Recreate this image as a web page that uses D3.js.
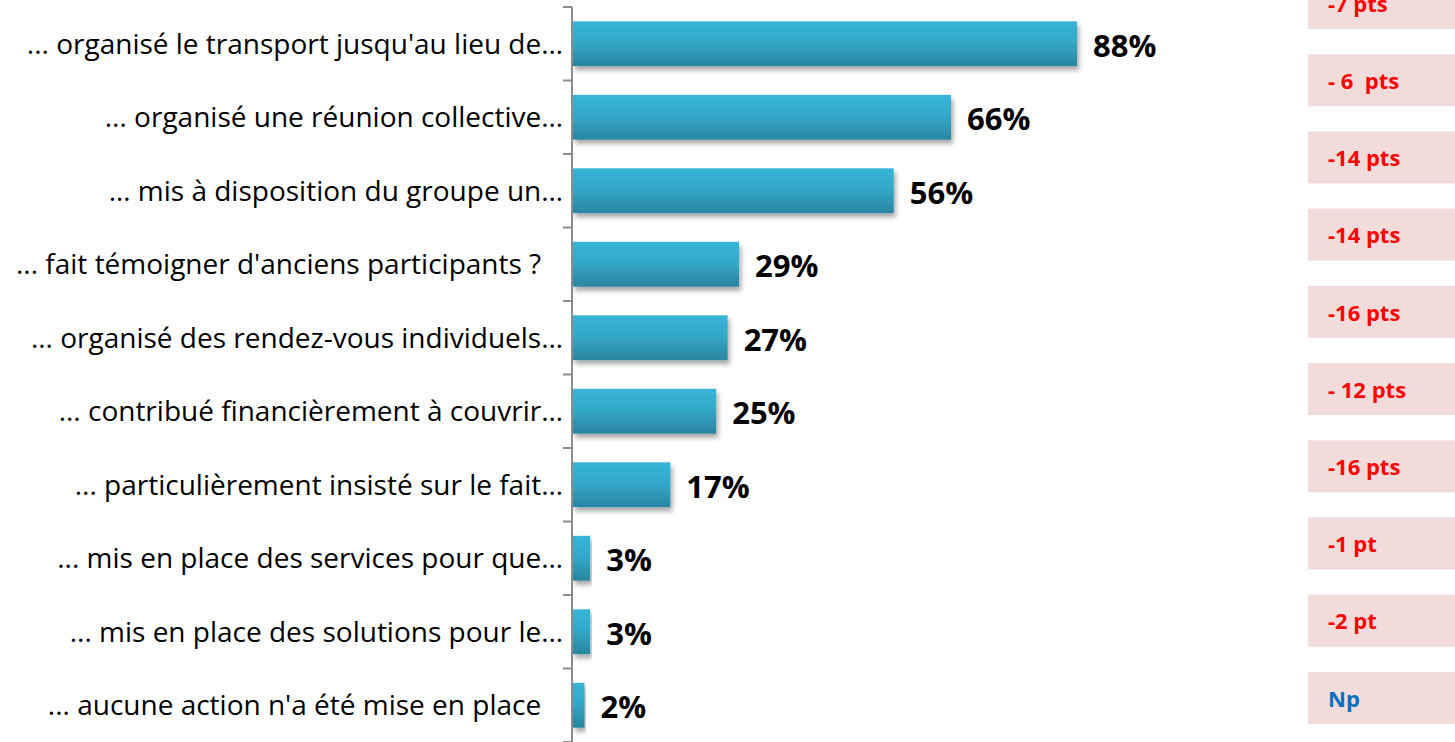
<!DOCTYPE html>
<html>
<head>
<meta charset="utf-8">
<script src="https://cdn.jsdelivr.net/npm/d3@7"></script>
<style>
  html, body { margin: 0; padding: 0; background: #fff; overflow: hidden; }
  svg { display: block; }
</style>
</head>
<body>
<div id="chart"></div>
<script>
const categories = [
  "... organisé le transport jusqu'au lieu de…",
  "... organisé une réunion collective…",
  "… mis à disposition du groupe un…",
  "... fait témoigner d'anciens participants ?   ",
  "... organisé des rendez-vous individuels…",
  "... contribué financièrement à couvrir…",
  "... particulièrement insisté sur le fait…",
  "... mis en place des services pour que…",
  "... mis en place des solutions pour le…",
  "... aucune action n'a été mise en place   "
];
const values = [88, 66, 56, 29, 27, 25, 17, 3, 3, 2];
const valueLabels = ["88%", "66%", "56%", "29%", "27%", "25%", "17%", "3%", "3%", "2%"];
const changes = ["-7 pts", "- 6  pts", "-14 pts", "-14 pts", "-16 pts", "- 12 pts", "-16 pts", "-1 pt", "-2 pt", "Np"];

const width = 1455, height = 742;
const axisX = 572;

const svg = d3.select('#chart').append('svg')
  .attr('width', width)
  .attr('height', height);

const defs = svg.append('defs');
const grad = defs.append('linearGradient')
  .attr('id', 'barGrad')
  .attr('x1', 0).attr('y1', 0).attr('x2', 0).attr('y2', 1);
grad.append('stop').attr('offset', '0%').attr('stop-color', '#37b4d7');
grad.append('stop').attr('offset', '45%').attr('stop-color', '#33a9c9');
grad.append('stop').attr('offset', '100%').attr('stop-color', '#2a85a0');

const shadow = defs.append('filter')
  .attr('id', 'barShadow')
  .attr('x', '-5%').attr('y', '-20%').attr('width', '115%').attr('height', '160%');
shadow.append('feDropShadow')
  .attr('dx', 2).attr('dy', 4).attr('stdDeviation', 2.5)
  .attr('flood-color', '#000').attr('flood-opacity', 0.35);

const y = d3.scaleBand()
  .domain(categories)
  .range([7, 742])
  .paddingInner(0.39)
  .paddingOuter(0.195);

const x = d3.scaleLinear()
  .domain([0, 88])
  .range([axisX + 1, 1077]);

// bars
svg.append('g')
  .selectAll('rect')
  .data(values)
  .join('rect')
  .attr('x', x(0))
  .attr('y', (d, i) => y(categories[i]))
  .attr('width', d => x(d) - x(0))
  .attr('height', y.bandwidth())
  .attr('fill', 'url(#barGrad)')
  .attr('filter', 'url(#barShadow)');

// axis line and band ticks
const axis = svg.append('g');
axis.append('line')
  .attr('x1', axisX).attr('x2', axisX)
  .attr('y1', 7).attr('y2', 742)
  .attr('stroke', '#8c8c8c').attr('stroke-width', 2);
const half = y.step() * y.paddingInner() / 2;
const bounds = categories.map(c => y(c) - half);
bounds.push(742);
axis.selectAll('line.tick')
  .data(bounds)
  .join('line')
  .attr('class', 'tick')
  .attr('x1', axisX - 9).attr('x2', axisX)
  .attr('y1', d => d).attr('y2', d => d)
  .attr('stroke', '#8c8c8c').attr('stroke-width', 2);

// category labels
svg.append('g')
  .selectAll('text')
  .data(categories)
  .join('text')
  .attr('x', 563)
  .attr('y', d => y(d) + y.bandwidth() / 2)
  .attr('dy', '0.35em')
  .attr('text-anchor', 'end')
  .style('white-space', 'pre')
  .attr('font-family', '"Open Sans", "Noto Sans", sans-serif')
  .attr('font-size', 28)
  .attr('fill', '#000')
  .text(d => d);

// value labels
svg.append('g')
  .selectAll('text')
  .data(values)
  .join('text')
  .attr('x', d => x(d) + 16)
  .attr('y', (d, i) => y(categories[i]) + y.bandwidth() / 2 + 2)
  .attr('dy', '0.35em')
  .attr('font-family', '"Open Sans", "Noto Sans", sans-serif')
  .attr('font-weight', 'bold')
  .attr('font-size', 31)
  .attr('fill', '#000')
  .text((d, i) => valueLabels[i]);

// evolution boxes on the right
const boxY = d3.scaleLinear()
  .domain([0, changes.length - 1])
  .range([-23, 672]);
const boxes = svg.append('g')
  .selectAll('g')
  .data(changes)
  .join('g')
  .attr('transform', (d, i) => `translate(1308,${boxY(i)})`);
boxes.append('rect')
  .attr('width', 160)
  .attr('height', 52)
  .attr('fill', '#f2dcdb');
boxes.append('text')
  .attr('x', 20)
  .attr('y', 27)
  .attr('dy', '0.35em')
  .style('white-space', 'pre')
  .attr('font-family', '"Open Sans", "Noto Sans", sans-serif')
  .attr('font-weight', 'bold')
  .attr('font-size', 22)
  .attr('fill', d => d === 'Np' ? '#0070c0' : '#ff0000')
  .text(d => d);
</script>
</body>
</html>
